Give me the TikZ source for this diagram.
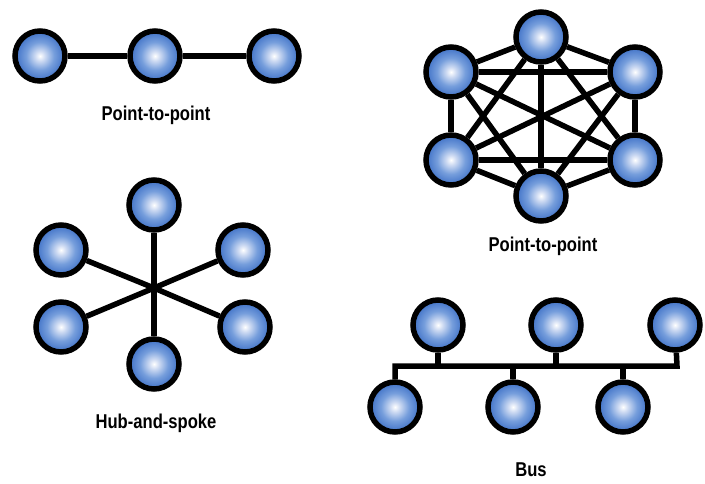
\documentclass[tikz,border=0pt]{standalone}
\usepackage{fontspec}
\setmainfont{Liberation Sans}[FakeStretch=0.83]
\definecolor{nodeblue}{RGB}{62,112,198}
\definecolor{midblue}{RGB}{118,158,220}
\definecolor{paleblue}{RGB}{205,218,242}
\pgfdeclareradialshading{ball}{\pgfpoint{0bp}{0bp}}{color(0bp)=(white); color(5bp)=(paleblue);
  color(14bp)=(midblue); color(25bp)=(nodeblue); color(50bp)=(nodeblue)}
\tikzset{
  station/.style={circle,draw=black,line width=5.5pt,minimum size=50pt,inner sep=0pt,
    shading=ball},
  link/.style={draw=black,line width=5.5pt},
  caption/.style={font=\bfseries\fontsize{20}{24}\selectfont,anchor=base}
}
\begin{document}
\begin{tikzpicture}[x=1pt,y=-1pt]
        \useasboundingbox (0,0) rectangle (705,483);

        \begin{scope}[every node/.style={station}]
          \node (p1) at (40,56)   {};
          \node (p2) at (155,56)  {};
          \node (p3) at (274,56)  {};
          \node (m1) at (541,37)  {};
          \node (m2) at (451,72)  {};
          \node (m3) at (635,72)  {};
          \node (m4) at (451,160) {};
          \node (m5) at (635,160) {};
          \node (m6) at (541,196) {};
          \node (h1) at (154,205) {};
          \node (h2) at (61,250)  {};
          \node (h3) at (243,250) {};
          \node (h4) at (61,327)  {};
          \node (h5) at (245,327) {};
          \node (h6) at (154,364) {};
          \node (t1) at (438,325) {};
          \node (t2) at (556,325) {};
          \node (t3) at (675,325) {};
          \node (b1) at (395,407) {};
          \node (b2) at (513,407) {};
          \node (b3) at (623,407) {};
        \end{scope}

        \coordinate (hub)  at (154,288);
        \coordinate (busL) at (395,366);
        \coordinate (busR) at (677,366);

        \begin{scope}[every edge/.style={link}]
          \path (p1) edge (p2);
          \path (p2) edge (p3);
          \path (m1) edge (m2);
          \path (m1) edge (m3);
          \path (m1) edge (m4);
          \path (m1) edge (m5);
          \path (m1) edge (m6);
          \path (m2) edge (m3);
          \path (m2) edge (m4);
          \path (m2) edge (m5);
          \path (m2) edge (m6);
          \path (m3) edge (m4);
          \path (m3) edge (m5);
          \path (m3) edge (m6);
          \path (m4) edge (m5);
          \path (m4) edge (m6);
          \path (m5) edge (m6);
          \path (hub) edge (h1);
          \path (hub) edge (h2);
          \path (hub) edge (h3);
          \path (hub) edge (h4);
          \path (hub) edge (h5);
          \path (hub) edge (h6);
          \path (t1) edge (t1 |- busL);
          \path (t2) edge (t2 |- busL);
          \path (b2) edge (b2 |- busL);
          \path (b3) edge (b3 |- busL);
        \end{scope}
        \draw[link] (b1) -- (busL) -- (busR) -- (t3);

        \begin{scope}[every node/.style={caption}]
          \node (ptpcap)  at (156,120) {Point-to-point};
          \node (meshcap) at (543,251) {Point-to-point};
          \node (hubcap)  at (156,428) {Hub-and-spoke};
          \node (buscap)  at (531,476) {Bus};
        \end{scope}

      \end{tikzpicture}
\end{document}
